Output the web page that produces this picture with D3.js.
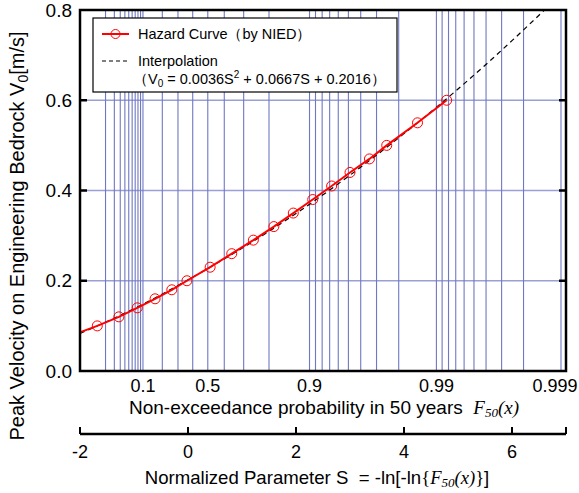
<!DOCTYPE html>
<html>
<head>
<meta charset="utf-8">
<script src="https://cdn.jsdelivr.net/npm/d3@7"></script>
<style>
  body { margin: 0; background: #fff; }
  svg { display: block; font-family: "Liberation Sans", Arial, sans-serif; }
</style>
</head>
<body>
<svg id="chart" width="579" height="493"></svg>
<script>
// hazard curve points (S, V0); first point sits left of the frame
const hazardS = [-2.2, -1.68, -1.28, -0.94, -0.61, -0.30, -0.02, 0.41, 0.81, 1.21, 1.59, 1.95, 2.31, 2.66, 3.00, 3.36, 3.68, 4.25, 4.79];
const hazardV = [0.077, 0.10, 0.12, 0.14, 0.16, 0.18, 0.20, 0.23, 0.26, 0.29, 0.32, 0.35, 0.38, 0.41, 0.44, 0.47, 0.50, 0.55, 0.60];

// dashed interpolation curve
const interpS = [-2, -1, 0, 1, 2, 3, 4, 5, 6, 7];
const interpV = [0.083, 0.138, 0.202, 0.272, 0.349, 0.434, 0.526, 0.625, 0.732, 0.846];

// probability grid and labels on the Gumbel scale
const gridProb = [0.01, 0.02, 0.03, 0.04, 0.05, 0.06, 0.07, 0.08, 0.09, 0.1,
  0.2, 0.3, 0.4, 0.5, 0.6, 0.7, 0.8, 0.9,
  0.91, 0.92, 0.93, 0.94, 0.95, 0.96, 0.97, 0.98, 0.99,
  0.991, 0.992, 0.993, 0.994, 0.995, 0.996, 0.997, 0.998, 0.999];
const probTicks = [0.1, 0.5, 0.9, 0.99, 0.999];
const sTicks = [-2, 0, 2, 4, 6];
const vTicks = [0, 0.2, 0.4, 0.6, 0.8];

const svg = d3.select("#chart");
const x = d3.scaleLinear().domain([-2, 7]).range([80, 566]);
const y = d3.scaleLinear().domain([0, 0.8]).range([371, 10]);
const toS = p => -Math.log(-Math.log(p));
const gridColor = "#6f78c2";
const serif = "Liberation Serif, Times New Roman, serif";

svg.append("clipPath").attr("id", "plot-clip")
  .append("rect").attr("x", 80).attr("y", 10).attr("width", 486).attr("height", 361);

// grid
const grid = svg.append("g").attr("clip-path", "url(#plot-clip)");
grid.selectAll("line.v").data(gridProb).join("line")
  .attr("class", "v")
  .attr("x1", d => x(toS(d))).attr("x2", d => x(toS(d)))
  .attr("y1", y(0)).attr("y2", y(0.8))
  .attr("stroke", gridColor).attr("stroke-width", 1.1);
grid.selectAll("line.h").data([0.2, 0.4, 0.6]).join("line")
  .attr("class", "h")
  .attr("x1", x(-2)).attr("x2", x(7))
  .attr("y1", d => y(d)).attr("y2", d => y(d))
  .attr("stroke", gridColor).attr("stroke-opacity", 0.7).attr("stroke-width", 1.5);

// curves
const plot = svg.append("g").attr("clip-path", "url(#plot-clip)");
const interp = interpS.map((s, i) => [s, interpV[i]]);
const hazard = hazardS.map((s, i) => [s, hazardV[i]]);

plot.append("path").datum(interp)
  .attr("d", d3.line().x(d => x(d[0])).y(d => y(d[1])).curve(d3.curveNatural))
  .attr("fill", "none").attr("stroke", "#000").attr("stroke-width", 1.2)
  .attr("stroke-dasharray", "5,4");

plot.append("path").datum(hazard)
  .attr("d", d3.line().x(d => x(d[0])).y(d => y(d[1])))
  .attr("fill", "none").attr("stroke", "#ff0000").attr("stroke-width", 2);

plot.selectAll("circle").data(hazard).join("circle")
  .attr("cx", d => x(d[0])).attr("cy", d => y(d[1])).attr("r", 5)
  .attr("fill", "none").attr("stroke", "#ff0000").attr("stroke-width", 1);

// frame
svg.append("rect").attr("x", 80).attr("y", 10).attr("width", 486).attr("height", 361)
  .attr("fill", "none").attr("stroke", "#000").attr("stroke-width", 2.5);

// y ticks (inward, both sides)
svg.selectAll("line.yl").data(vTicks.slice(1, 4)).join("line")
  .attr("x1", 80).attr("x2", 87).attr("y1", d => y(d)).attr("y2", d => y(d))
  .attr("stroke", "#000").attr("stroke-width", 2.5);
svg.selectAll("line.yr").data(vTicks.slice(1, 4)).join("line")
  .attr("x1", 559).attr("x2", 566).attr("y1", d => y(d)).attr("y2", d => y(d))
  .attr("stroke", "#000").attr("stroke-width", 2.5);

svg.selectAll("text.yt").data(vTicks).join("text")
  .attr("x", 72).attr("y", d => y(d)).attr("dy", "0.35em")
  .attr("text-anchor", "end").attr("font-size", 19)
  .text(d3.format(".1f"));

// probability labels under the frame (last one pushed in to stay on the page)
svg.selectAll("text.pt").data(probTicks).join("text")
  .attr("x", d => Math.min(x(toS(d)), 555)).attr("y", 392)
  .attr("text-anchor", "middle").attr("font-size", 18)
  .text(d => d);

const t1 = svg.append("text").attr("x", 324).attr("y", 414)
  .attr("text-anchor", "middle").attr("font-size", 19);
t1.append("tspan").text("Non-exceedance probability in 50 years\u00a0\u00a0");
t1.append("tspan").attr("font-family", serif).attr("font-style", "italic").text("F");
t1.append("tspan").attr("font-family", serif).attr("font-style", "italic")
  .attr("font-size", 13).attr("dy", 3).text("50");
t1.append("tspan").attr("font-family", serif).attr("font-style", "italic")
  .attr("dy", -3).text("(x)");

// S axis
const sAxis = svg.append("g");
sAxis.append("line").attr("x1", x(-2)).attr("x2", x(7)).attr("y1", 434).attr("y2", 434)
  .attr("stroke", "#000").attr("stroke-width", 2.5);
sAxis.selectAll("line.st").data(sTicks.concat([7])).join("line")
  .attr("class", "st")
  .attr("x1", d => x(d)).attr("x2", d => x(d)).attr("y1", 434).attr("y2", 427)
  .attr("stroke", "#000").attr("stroke-width", 2);
sAxis.selectAll("text").data(sTicks).join("text")
  .attr("x", d => x(d)).attr("y", 458)
  .attr("text-anchor", "middle").attr("font-size", 18)
  .text(d => d < 0 ? "-" + Math.abs(d) : d);

const t2 = svg.append("text").attr("x", 317).attr("y", 484)
  .attr("text-anchor", "middle").attr("font-size", 18.6);
t2.append("tspan").text("Normalized Parameter S\u00a0\u00a0= -ln[-ln");
t2.append("tspan").attr("font-family", serif).text("{");
t2.append("tspan").attr("font-family", serif).attr("font-style", "italic").text("F");
t2.append("tspan").attr("font-family", serif).attr("font-style", "italic")
  .attr("font-size", 13).attr("dy", 3).text("50");
t2.append("tspan").attr("font-family", serif).attr("font-style", "italic")
  .attr("dy", -3).text("(x)");
t2.append("tspan").attr("font-family", serif).text("}");
t2.append("tspan").text("]");

// y title
const yt = svg.append("text")
  .attr("transform", "translate(24,236) rotate(-90)")
  .attr("text-anchor", "middle").attr("font-size", 20);
yt.append("tspan").text("Peak Velocity on Engineering Bedrock V");
yt.append("tspan").attr("font-size", 14).attr("dy", 4).text("0");
yt.append("tspan").attr("dy", -4).text("[m/s]");

// legend
const lg = svg.append("g");
lg.append("rect").attr("x", 93).attr("y", 18).attr("width", 304).attr("height", 74)
  .attr("fill", "#fff").attr("stroke", "#000").attr("stroke-width", 1.2);
lg.append("line").attr("x1", 102).attr("x2", 129).attr("y1", 34).attr("y2", 34)
  .attr("stroke", "#ff0000").attr("stroke-width", 2);
lg.append("circle").attr("cx", 115.5).attr("cy", 34).attr("r", 4.5)
  .attr("fill", "none").attr("stroke", "#ff0000").attr("stroke-width", 1);
lg.append("text").attr("x", 138).attr("y", 34).attr("dy", "0.35em").attr("font-size", 14.5)
  .text("Hazard Curve（by NIED）");
lg.append("line").attr("x1", 102).attr("x2", 129).attr("y1", 61).attr("y2", 61)
  .attr("stroke", "#000").attr("stroke-width", 1.2).attr("stroke-dasharray", "4,3");
lg.append("text").attr("x", 138).attr("y", 61).attr("dy", "0.35em").attr("font-size", 14.5)
  .text("Interpolation");
const eq = lg.append("text").attr("x", 133).attr("y", 84).attr("font-size", 14.5);
eq.append("tspan").text("（V");
eq.append("tspan").attr("font-size", 10).attr("dy", 3).text("0");
eq.append("tspan").attr("dy", -3).text(" = 0.0036S");
eq.append("tspan").attr("font-size", 10).attr("dy", -6).text("2");
eq.append("tspan").attr("dy", 6).text(" + 0.0667S + 0.2016）");
</script>
</body>
</html>
